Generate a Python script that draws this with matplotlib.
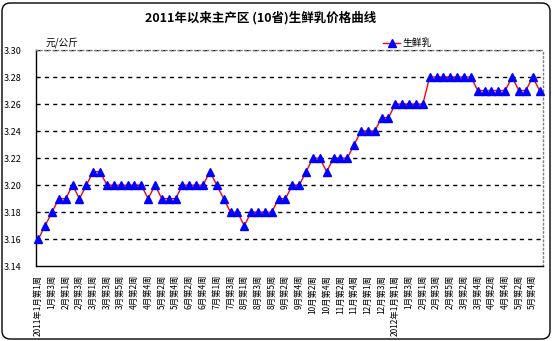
import matplotlib
matplotlib.use('Agg')
import matplotlib.pyplot as plt
from matplotlib.patches import FancyBboxPatch
from matplotlib.lines import Line2D
import numpy as np

plt.rcParams['font.family'] = ['Noto Sans CJK SC', 'DejaVu Sans']

# ---- data ----
prices = [3.16, 3.17, 3.18, 3.19, 3.19, 3.20, 3.19, 3.20, 3.21, 3.21,
          3.20, 3.20, 3.20, 3.20, 3.20, 3.20, 3.19, 3.20, 3.19, 3.19,
          3.19, 3.20, 3.20, 3.20, 3.20, 3.21, 3.20, 3.19, 3.18, 3.18,
          3.17, 3.18, 3.18, 3.18, 3.18, 3.19, 3.19, 3.20, 3.20, 3.21,
          3.22, 3.22, 3.21, 3.22, 3.22, 3.22, 3.23, 3.24, 3.24, 3.24,
          3.25, 3.25, 3.26, 3.26, 3.26, 3.26, 3.26, 3.28, 3.28, 3.28,
          3.28, 3.28, 3.28, 3.28, 3.27, 3.27, 3.27, 3.27, 3.27, 3.28,
          3.27, 3.27, 3.28, 3.27]

week_labels = ['2011年1月第1周', '1月第3周', '2月第1周', '2月第3周', '3月第1周',
               '3月第3周', '3月第5周', '4月第2周', '4月第4周', '5月第2周',
               '5月第4周', '6月第2周', '6月第4周', '7月第1周', '7月第3周',
               '8月第1周', '8月第3周', '8月第5周', '9月第2周', '9月第4周',
               '10月第2周', '10月第4周', '11月第2周', '11月第4周', '12月第1周',
               '12月第3周', '2012年1月第1周', '1月第3周', '2月第1周', '2月第3周',
               '2月第5周', '3月第2周', '3月第4周', '4月第2周', '4月第4周',
               '5月第2周', '5月第4周']

y_ticks = [3.14, 3.16, 3.18, 3.20, 3.22, 3.24, 3.26, 3.28, 3.30]
series_name = '生鲜乳'
title = '2011年以来主产区 (10省)生鲜乳价格曲线'
unit = '元/公斤'

W, H = 553, 341
fig = plt.figure(figsize=(W / 100, H / 100), dpi=100)
fig.patch.set_facecolor('white')

# outer rounded border
fig.add_artist(FancyBboxPatch((2 / W, 2 / H), (W - 5) / W, (H - 5) / H,
                              boxstyle='round,pad=0,rounding_size=0.015',
                              mutation_aspect=W / H,
                              transform=fig.transFigure, fill=False,
                              edgecolor='black', linewidth=1))

left, right = 35.5 / W, 543 / W
bottom, top = 1 - 266.3 / H, 1 - 50 / H
ax = fig.add_axes([left, bottom, right - left, top - bottom])

x = np.arange(len(prices))
ax.plot(x, prices, color='red', linewidth=1, zorder=3)
ax.plot(x, prices, linestyle='none', marker='^', markersize=5.5,
        markerfacecolor='#0000ff', markeredgecolor='#0000ff', zorder=4,
        clip_on=False)

ax.set_xlim(-0.4, len(prices) - 0.5)
ax.set_ylim(3.14, 3.30)
ax.set_yticks(y_ticks)
ax.set_yticklabels([f'{v:.2f}' for v in y_ticks], fontsize=6.5)
for v in y_ticks[1:]:
    ax.axhline(v, color='black', linestyle=(0, (3, 3)), linewidth=1, zorder=1)

ax.set_xticks(np.arange(0, len(week_labels) * 2, 2))
ax.set_xticklabels(week_labels, rotation=90, fontsize=6, va='top', ha='center')
ax.tick_params(axis='y', length=0, pad=10)
ax.tick_params(axis='x', length=0, pad=6)

for s in ['left', 'bottom']:
    ax.spines[s].set_color('black')
    ax.spines[s].set_linewidth(1)
for s in ['top', 'right']:
    ax.spines[s].set_color('#808080')
    ax.spines[s].set_linestyle((0, (1, 2)))
    ax.spines[s].set_linewidth(1)

fig.text(261 / W, 1 - 18 / H, title, ha='center', va='center',
         fontsize=9, fontweight='bold')
fig.text(46 / W, 1 - 43 / H, unit, ha='left', va='center', fontsize=7)

# legend
ly = 1 - 43 / H
fig.add_artist(Line2D([383 / W, 400 / W], [ly, ly], color='red', linewidth=1,
                      transform=fig.transFigure))
fig.add_artist(Line2D([391.5 / W], [ly], marker='^', markersize=5.5,
                      markerfacecolor='#0000ff', markeredgecolor='#0000ff',
                      linestyle='none', transform=fig.transFigure))
fig.text(402 / W, ly, series_name, ha='left', va='center', fontsize=7)

fig.savefig('out.png', dpi=100, facecolor='white')
